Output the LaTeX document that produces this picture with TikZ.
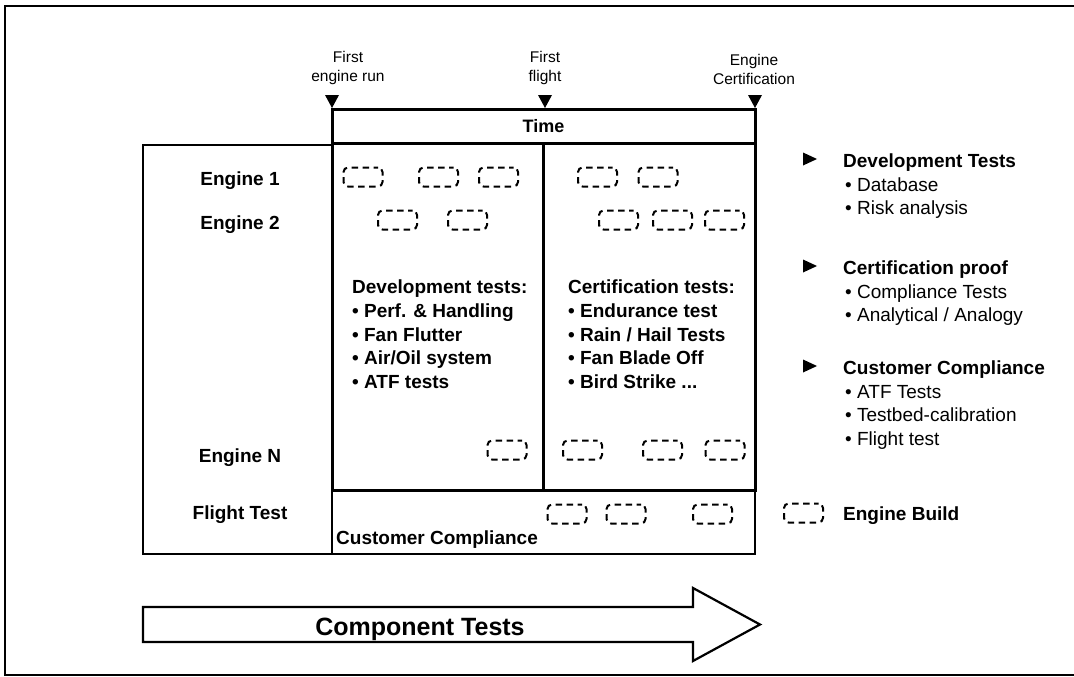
\documentclass[tikz,border=0pt]{standalone}
\usepackage{fontspec}
\setmainfont{Liberation Sans}
\tikzset{
  ebox/.style={draw, dash pattern=on 6.5pt off 4.5pt, dash phase=2pt, line width=2pt, rounded corners=4.5pt,
    minimum width=39pt, minimum height=19pt, inner sep=0pt},
  rowlbl/.style={anchor=base, inner sep=0pt, font=\fontsize{19}{23.5}\selectfont\bfseries},
  cellbox/.style={line width=3pt},
  milestone/.style={anchor=north, inner sep=0pt, align=center, font=\fontsize{15.5}{19}\selectfont},
  testlist/.style={anchor=north west, inner sep=0pt, align=left, font=\fontsize{19}{23.6}\selectfont\bfseries},
  legend/.style={anchor=north west, inner sep=0pt, align=left, font=\fontsize{19}{23.5}\selectfont}
}
\begin{document}
\begin{tikzpicture}[x=1pt, y=-1pt]
  \useasboundingbox (0,0) rectangle (1074,677);
  % frame
  \draw[line width=2.2pt] (1074,6) -- (5,6) -- (5,675) -- (1074,675);

  % milestones
  \foreach \mx in {332,545,755}
    \fill (\mx-7,95) -- (\mx+7,95) -- (\mx,108) -- cycle;
  \node[milestone] (run) at (348,51.5) {First\\engine run};
  \node[milestone] (fly) at (545,51.5) {First\\flight};
  \node[milestone] (cert) at (754,54.5) {Engine\\Certification};

  % grid
  \draw[cellbox] (332,109) rectangle (755,143);
  \node[font=\fontsize{18}{20}\selectfont\bfseries, anchor=base, inner sep=0pt] (time) at (543.5,132.5) {Time};
  \draw[line width=2.4pt] (143,145) rectangle (332,554);
  \draw[cellbox] (332,143) rectangle (755,490);
  \draw[cellbox] (543,143) -- (543,490);
  \draw[line width=2.4pt] (332,490) rectangle (755,554);

  \node[rowlbl] (eng1) at (240,185) {Engine 1};
  \node[rowlbl] (eng2) at (240,229) {Engine 2};
  \node[rowlbl] (engn) at (240,462) {Engine N};
  \node[rowlbl] (flt) at (240,519) {Flight Test};

  % engine builds
  \foreach \bx [count=\i] in {363,438.5,498.5,597.5,658}
    \node[ebox] (a\i) at (\bx,177) {};
  \foreach \bx [count=\i] in {397.5,467.5,618.5,672.5,724.5}
    \node[ebox] (b\i) at (\bx,220) {};
  \foreach \bx [count=\i] in {507,582.5,662.5,725}
    \node[ebox] (n\i) at (\bx,450) {};
  \foreach \bx [count=\i] in {567,626,712.5}
    \node[ebox] (f\i) at (\bx,514) {};

  \node[testlist] (dev) at (352,280) {Development tests:\\\textbullet\ Perf. \& Handling\\\textbullet\ Fan Flutter\\\textbullet\ Air/Oil system\\\textbullet\ ATF tests};
  \node[testlist] (crt) at (568,280) {Certification tests:\\\textbullet\ Endurance test\\\textbullet\ Rain / Hail Tests\\\textbullet\ Fan Blade Off\\\textbullet\ Bird Strike ...};
  \node[rowlbl, anchor=base west] (cust) at (336,544) {Customer Compliance};

  % legend
  \foreach \ly in {159,266,366}
    \fill (803,\ly-6.5) -- (817,\ly) -- (803,\ly+6.5) -- cycle;
  \node[legend] (lg1) at (843,154) {\textbf{Development Tests}\\\hspace*{2pt}\textbullet\ Database\\\hspace*{2pt}\textbullet\ Risk analysis};
  \node[legend] (lg2) at (843,261) {\textbf{Certification proof}\\\hspace*{2pt}\textbullet\ Compliance Tests\\\hspace*{2pt}\textbullet\ Analytical / Analogy};
  \node[legend] (lg3) at (843,361) {\textbf{Customer Compliance}\\\hspace*{2pt}\textbullet\ ATF Tests\\\hspace*{2pt}\textbullet\ Testbed-calibration\\\hspace*{2pt}\textbullet\ Flight test};
  \node[ebox] (key) at (803.5,513) {};
  \node[rowlbl, anchor=base west] (keylbl) at (843,520) {Engine Build};

  % component tests arrow
  \draw[line width=2.2pt, fill=white] (143,607) -- (693,607) -- (693,588) -- (760,624.5)
    -- (693,661) -- (693,642) -- (143,642) -- cycle;
  \node[font=\fontsize{25}{28}\selectfont\bfseries, anchor=base, inner sep=0pt] (comp) at (420,635) {Component Tests};
\end{tikzpicture}
\end{document}
